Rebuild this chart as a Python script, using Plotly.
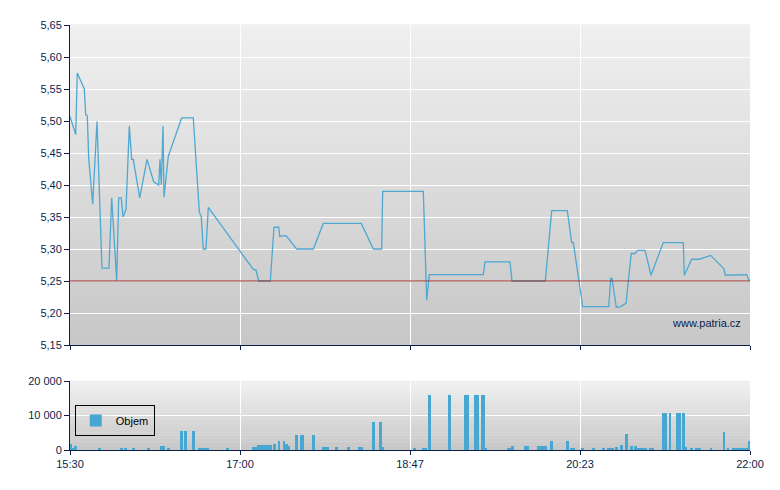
import pandas as pd
import plotly.graph_objects as go

DAY = "2024-01-01 "

# ---- price series (time, price) ----
price_time = [
    "15:30:00", "15:33:16", "15:34:11", "15:38:12", "15:39:00", "15:39:55", "15:40:43", "15:43:01",
    "15:45:29", "15:48:21", "15:52:22", "15:53:55", "15:56:47", "15:57:56", "15:59:25", "16:00:24",
    "16:02:07", "16:04:01", "16:05:23", "16:06:18", "16:09:59", "16:14:10", "16:18:00", "16:20:52",
    "16:21:37", "16:22:22", "16:23:20", "16:23:55", "16:26:23", "16:34:04", "16:40:43", "16:44:10",
    "16:45:18", "16:46:27", "16:48:00", "16:49:19", "17:15:08", "17:16:41", "17:18:14", "17:24:53",
    "17:27:00", "17:29:42", "17:30:16", "17:32:55", "17:33:53", "17:40:01", "17:49:32", "17:55:16",
    "18:17:04", "18:23:57", "18:28:46", "18:29:20", "18:52:38", "18:54:35", "18:56:04", "19:27:02",
    "19:28:01", "19:42:21", "19:43:30", "20:02:36", "20:06:16", "20:15:13", "20:17:44", "20:18:40",
    "20:24:03", "20:38:58", "20:40:07", "20:40:51", "20:43:19", "20:45:50", "20:48:53", "20:51:55",
    "20:54:02", "20:55:35", "20:59:47", "21:03:13", "21:10:16", "21:21:44", "21:22:19", "21:26:34",
    "21:30:55", "21:37:28", "21:45:05", "21:45:50", "21:58:07", "21:59:36",
]
price_value = [
    5.507, 5.479, 5.575, 5.550, 5.510, 5.508, 5.442, 5.370,
    5.499, 5.270, 5.270, 5.380, 5.250, 5.380, 5.380, 5.350,
    5.362, 5.492, 5.440, 5.440, 5.380, 5.440, 5.405, 5.400,
    5.440, 5.400, 5.492, 5.381, 5.445, 5.505, 5.505, 5.358,
    5.350, 5.300, 5.300, 5.365, 5.268, 5.267, 5.250, 5.250,
    5.334, 5.334, 5.320, 5.320, 5.321, 5.300, 5.300, 5.340,
    5.340, 5.300, 5.300, 5.390, 5.390, 5.220, 5.260, 5.260,
    5.280, 5.280, 5.250, 5.250, 5.360, 5.360, 5.310, 5.310,
    5.210, 5.210, 5.254, 5.254, 5.209, 5.210, 5.215, 5.293,
    5.293, 5.298, 5.298, 5.259, 5.310, 5.310, 5.259, 5.284,
    5.284, 5.290, 5.269, 5.259, 5.260, 5.250,
]

# ---- volume series (time, volume) ----
volume_time = [
    "15:30:34", "15:31:23", "15:33:02", "15:46:48", "15:59:25", "16:01:43", "16:06:18", "16:14:55",
    "16:22:18", "16:23:38", "16:26:23", "16:33:50", "16:36:08", "16:40:43", "16:44:10", "16:45:43",
    "16:47:15", "16:48:48", "17:00:13", "17:15:08", "17:16:30", "17:17:49", "17:19:22", "17:20:55",
    "17:22:28", "17:24:01", "17:24:59", "17:27:10", "17:29:52", "17:32:44", "17:34:03", "17:35:08",
    "17:39:47", "17:42:36", "17:43:31", "17:49:32", "17:55:16", "17:56:49", "17:57:38", "18:02:44",
    "18:09:37", "18:15:55", "18:17:08", "18:23:57", "18:27:58", "18:29:31", "18:47:45", "18:52:38",
    "18:54:11", "18:56:01", "19:07:32", "19:16:43", "19:17:55", "19:22:27", "19:23:40", "19:26:25",
    "19:27:10", "19:28:25", "19:41:23", "19:42:11", "19:43:47", "19:51:08", "19:52:41", "19:58:35",
    "20:00:08", "20:01:41", "20:02:50", "20:06:02", "20:15:13", "20:17:31", "20:18:43", "20:23:49",
    "20:30:08", "20:35:52", "20:38:44", "20:40:17", "20:41:05", "20:43:19", "20:46:11", "20:49:04",
    "20:51:55", "20:54:13", "20:55:46", "20:57:19", "20:58:52", "20:59:57", "21:02:49", "21:04:01",
    "21:10:16", "21:11:29", "21:14:07", "21:18:18", "21:19:51", "21:21:44", "21:23:00", "21:26:20",
    "21:29:12", "21:31:09", "21:37:38", "21:45:05", "21:47:23", "21:50:25", "21:51:58", "21:53:31",
    "21:55:04", "21:56:37", "21:58:10", "21:59:43",
]
volume_value = [
    1700, 500, 1150, 600, 300, 600, 600, 300,
    1150, 1150, 300, 5500, 5500, 5500, 600, 600,
    600, 600, 600, 900, 900, 1400, 1400, 1400,
    1400, 1400, 1400, 1700, 2600, 2600, 1700, 1150,
    4300, 4300, 4300, 4300, 900, 900, 900, 900,
    900, 900, 900, 8100, 8100, 1000, 600, 600,
    600, 15900, 15900, 15900, 15900, 15900, 15900, 15900,
    15900, 600, 600, 600, 1150, 1150, 1150, 1150,
    1150, 1150, 1150, 2700, 2700, 600, 600, 600,
    600, 600, 600, 600, 600, 900, 1400, 4600,
    1150, 1150, 600, 600, 600, 600, 600, 600,
    10700, 10700, 10700, 10700, 10700, 10700, 900, 600,
    600, 600, 600, 5200, 600, 600, 600, 600,
    600, 600, 600, 2700,
]

# ---- axis ticks ----
x_tick_time = ["15:30:00", "17:07:30", "18:45:00", "20:22:30", "22:00:00"]
x_tick_text = ["15:30", "17:00", "18:47", "20:23", "22:00"]
price_ticks = [5.15, 5.20, 5.25, 5.30, 5.35, 5.40, 5.45, 5.50, 5.55, 5.60, 5.65]
volume_ticks = [0, 10000, 20000]
reference_price = 5.25

price_x = pd.to_datetime([DAY + t for t in price_time])
volume_x = pd.to_datetime([DAY + t for t in volume_time])
tick_x = pd.to_datetime([DAY + t for t in x_tick_time])

NAVY = "#0b1f4b"
LINE = "#4ea8d1"
BAR = "#47a7d0"
FONT = "Liberation Sans, Arial, sans-serif"

fig = go.Figure()
fig.add_trace(go.Scatter(
    x=price_x, y=price_value, mode="lines",
    line=dict(color=LINE, width=1.3), showlegend=False,
    xaxis="x", yaxis="y",
))
fig.add_trace(go.Bar(
    x=volume_x, y=volume_value, name="Objem",
    marker=dict(color=BAR, line=dict(width=0)),
    width=100000, xaxis="x2", yaxis="y2",
))

# gradient backgrounds (drawn as thin strips behind the grid)
shapes = []
def gradient(xref, yref, n, top, bottom):
    for i in range(n):
        f = i / (n - 1)
        c = round(top + (bottom - top) * f)
        shapes.append(dict(
            type="rect", xref=xref, yref=yref, layer="below",
            x0=0, x1=1, y0=1 - (i + 1) / n, y1=1 - i / n + 0.002,
            fillcolor=f"rgb({c},{c},{c})", line=dict(width=0),
        ))
gradient("x domain", "y domain", 80, 240, 199)
gradient("x2 domain", "y2 domain", 24, 240, 200)

shapes.append(dict(
    type="line", xref="x domain", yref="y", x0=0, x1=1,
    y0=reference_price, y1=reference_price, layer="above",
    line=dict(color="#9e2b25", width=1),
))

x_common = dict(
    type="date",
    range=[DAY + "15:30:00", DAY + "22:00:00"],
    tickvals=tick_x, ticktext=x_tick_text,
    showgrid=True, gridcolor="white", gridwidth=1,
    showline=True, linecolor=NAVY, linewidth=1,
    ticks="outside", ticklen=4, tickcolor=NAVY,
    zeroline=False, fixedrange=True,
    tickfont=dict(family=FONT, size=11, color=NAVY),
)

fig.update_layout(
    width=780, height=490,
    margin=dict(l=70, r=30, t=25, b=40),
    paper_bgcolor="white", plot_bgcolor="white",
    separators=", ",
    font=dict(family=FONT, size=11, color=NAVY),
    shapes=shapes,
    xaxis=dict(domain=[0, 1], anchor="y", showticklabels=False, **x_common),
    xaxis2=dict(domain=[0, 1], anchor="y2", matches="x", showticklabels=True, **x_common),
    yaxis=dict(
        domain=[0.24706, 1], range=[5.15, 5.65], tickvals=price_ticks,
        tickformat=".2f", showgrid=True, gridcolor="white", gridwidth=1,
        showline=True, linecolor=NAVY, linewidth=1, ticks="outside",
        ticklen=5, tickcolor=NAVY, zeroline=False,
        tickfont=dict(family=FONT, size=11, color=NAVY),
    ),
    yaxis2=dict(
        domain=[0, 0.16235], range=[0, 20000], tickvals=volume_ticks,
        tickformat=",d", showgrid=True, gridcolor="white", gridwidth=1,
        showline=True, linecolor=NAVY, linewidth=1, ticks="outside",
        ticklen=5, tickcolor=NAVY, zeroline=False,
        tickfont=dict(family=FONT, size=11, color=NAVY),
    ),
    legend=dict(
        x=0.007, y=0.106, xanchor="left", yanchor="top",
        bgcolor="rgba(0,0,0,0)", bordercolor="black", borderwidth=1,
        font=dict(family=FONT, size=11, color="black"),
        itemwidth=30, tracegroupgap=0,
    ),
    showlegend=True,
    bargap=0,
    annotations=[dict(
        text="www.patria.cz", xref="x domain", yref="y domain",
        x=0.99, y=0.069, xanchor="right", yanchor="middle",
        showarrow=False, font=dict(family=FONT, size=11, color=NAVY),
    )],
)

fig.write_html(
    "out.html",
    config={"displayModeBar": False},
    post_script="document.body.style.margin='0';document.body.style.padding='0';",
)
